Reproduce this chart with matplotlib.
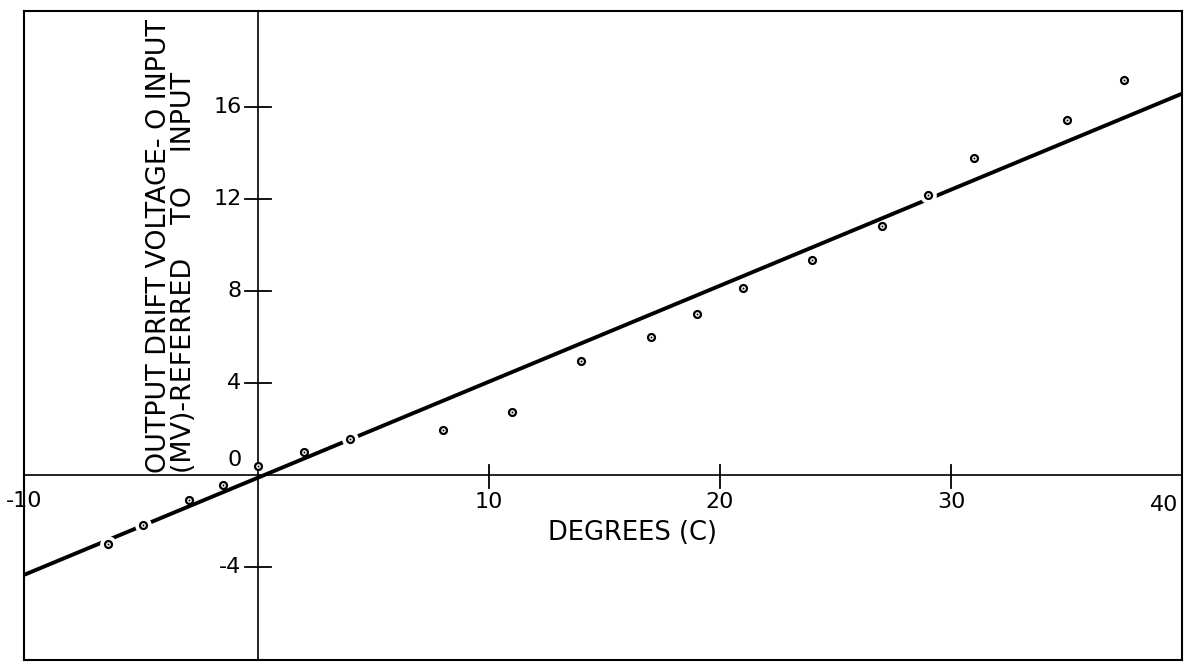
import numpy as np
import matplotlib
matplotlib.use("Agg")
import matplotlib.pyplot as plt

# measured points: temperature (C) vs drift (mV referred to input)
temp_c = [-6.5, -5, -3, -1.5, 0, 2, 4, 8, 11, 14, 17, 19, 21, 24, 27, 29, 31, 35, 37.5]
drift_mv = [-3.0, -2.2, -1.1, -0.45, 0.4, 1.0, 1.55, 1.95, 2.75, 4.95, 6.0, 7.0,
            8.15, 9.35, 10.85, 12.2, 13.8, 15.45, 17.2]

# straight line drawn through the points
fit_slope = 0.418
fit_intercept = -0.12

x_ticks = [10, 20, 30]
x_labels = [-10, 10, 20, 30, 40]
y_ticks = [-4, 4, 8, 12, 16]
y_labels = [-4, 0, 4, 8, 12, 16]

plt.rcParams["font.family"] = ["DejaVu Sans"]

fig = plt.figure(figsize=(11.91, 6.64), dpi=100)
ax = fig.add_axes([24 / 1191, 4 / 664, 1158 / 1191, 649 / 664])
ax.set_xlim(-10.13, 40.0)
ax.set_ylim(-8.06, 20.2)
ax.set_xticks([])
ax.set_yticks([])
for s in ax.spines.values():
    s.set_linewidth(1.5)
    s.set_color("black")

# axes through the origin
ax.axhline(0, color="black", lw=1.2, zorder=1)
ax.axvline(0, color="black", lw=1.2, zorder=1)

# tick marks crossing the axes
for t in x_ticks:
    ax.plot([t, t], [-0.55, 0.45], color="black", lw=1.3, zorder=1)
for t in y_ticks:
    ax.plot([-0.56, 0.56], [t, t], color="black", lw=1.3, zorder=1)

# tick labels
for t in x_labels:
    if t == -10:
        ax.text(-10.13, -1.15, "-10", ha="center", va="center", fontsize=16)
    elif t == 40:
        ax.text(39.85, -1.3, "40", ha="right", va="center", fontsize=16)
    else:
        ax.text(t, -1.2, str(t), ha="center", va="center", fontsize=16)
for t in y_labels:
    yy = 0.65 if t == 0 else t
    ax.text(-0.72, yy, str(t), ha="right", va="center", fontsize=16)

# fitted line
xs = np.array([-10.13, 40.0])
ax.plot(xs, fit_slope * xs + fit_intercept, color="black", lw=2.8,
        solid_capstyle="butt", zorder=2)

# the line is broken where a point sits right on it
tx = np.array(temp_c)
dy = np.array(drift_mv)
on_line = np.abs(dy - (fit_slope * tx + fit_intercept)) < 0.22
ax.plot(tx[on_line], dy[on_line], "o", ms=12, mfc="white", mec="none", zorder=3)

# points: small ring with a centre dot
ax.plot(tx, dy, "o", ms=5, mfc="white", mec="black", mew=1.6, zorder=4)
ax.plot(tx, dy, "o", ms=1.4, mfc="black", mec="none", zorder=5)

ax.text(16.2, -2.55, "DEGREES (C)", ha="center", va="center", fontsize=18.5)
ax.text(-3.75, 0.1, "OUTPUT DRIFT VOLTAGE- O INPUT\n(MV)-REFERRED    TO    INPUT",
        rotation=90, ha="center", va="bottom", multialignment="left",
        linespacing=0.93, fontsize=19.4)

fig.savefig("out.png", dpi=100)
